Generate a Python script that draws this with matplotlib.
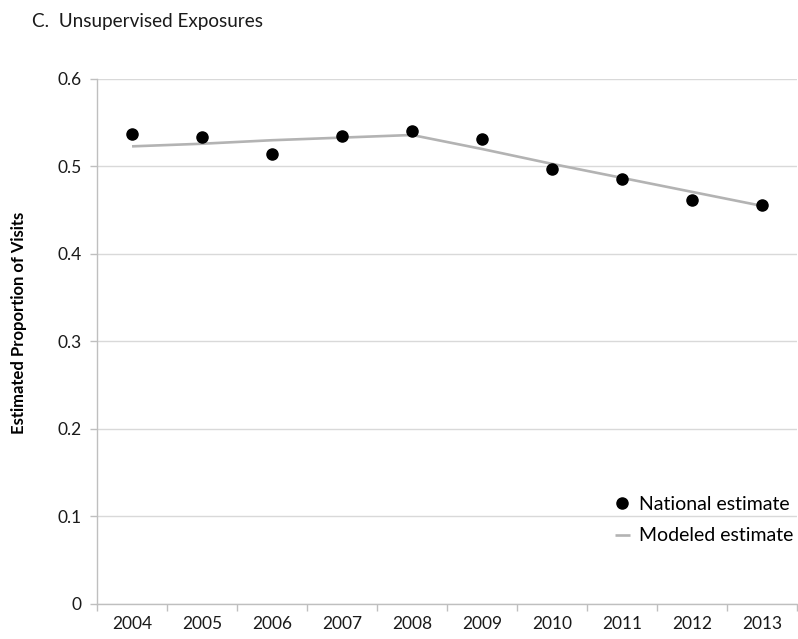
import matplotlib
matplotlib.use("Agg")
import matplotlib.pyplot as plt
from matplotlib.ticker import FixedLocator, NullFormatter

years = ["2004", "2005", "2006", "2007", "2008", "2009", "2010", "2011", "2012", "2013"]
national_estimate = [0.537, 0.534, 0.514, 0.535, 0.541, 0.531, 0.497, 0.486, 0.462, 0.456]
modeled_estimate = [0.523, 0.526, 0.530, 0.533, 0.536, 0.520, 0.503, 0.487, 0.471, 0.455]
y_ticks = [0, 0.1, 0.2, 0.3, 0.4, 0.5, 0.6]
y_tick_labels = ["0", "0.1", "0.2", "0.3", "0.4", "0.5", "0.6"]

plt.rcParams["font.family"] = ["Lato", "DejaVu Sans"]

fig = plt.figure(figsize=(7.98, 6.39), dpi=100)
ax = fig.add_axes([0.1216, 0.0548, 0.877, 0.8216])

axis_grey = "#bfbfbf"
grid_grey = "#d9d9d9"

x = list(range(len(years)))
ax.plot(x, modeled_estimate, color="#b3b3b3", lw=1.9, label="Modeled estimate", zorder=2,
        solid_capstyle="butt")
ax.plot(x, national_estimate, "o", color="black", ms=8, label="National estimate", zorder=3)

ax.set_xlim(-0.5, len(years) - 0.5)
ax.set_ylim(0, 0.6)

ax.set_xticks(x)
ax.set_xticklabels(years, fontsize=12.5, color="#1a1a1a")
ax.xaxis.set_minor_locator(FixedLocator([i - 0.5 for i in range(len(years) + 1)]))
ax.xaxis.set_minor_formatter(NullFormatter())
ax.tick_params(axis="x", which="major", length=0, pad=9)
ax.tick_params(axis="x", which="minor", length=5, width=1, color=axis_grey, direction="out")

ax.set_yticks(y_ticks)
ax.set_yticklabels(y_tick_labels, fontsize=12.5, color="#1a1a1a")
ax.tick_params(axis="y", length=5, width=1, color=axis_grey, direction="out", pad=6)

ax.grid(axis="y", color=grid_grey, lw=1)
ax.set_axisbelow(True)
for side in ("top", "right"):
    ax.spines[side].set_visible(False)
for side in ("left", "bottom"):
    ax.spines[side].set_color(axis_grey)
    ax.spines[side].set_linewidth(1)

ax.set_ylabel("Estimated Proportion of Visits", fontsize=12, fontweight="bold")
ax.yaxis.set_label_coords(-0.1, 0.535)

fig.text(0.04, 0.958, "C.  Unsupervised Exposures", fontsize=13.6, color="#1a1a1a",
         ha="left", va="baseline")

handles, labels = ax.get_legend_handles_labels()
leg = ax.legend(handles[::-1], labels[::-1], loc="lower right", bbox_to_anchor=(1.02, 0.08),
                frameon=False, fontsize=14, handlelength=0.8, handletextpad=0.45,
                labelspacing=0.75, markerscale=1.0)

fig.savefig("out.png", dpi=100, facecolor="white")
